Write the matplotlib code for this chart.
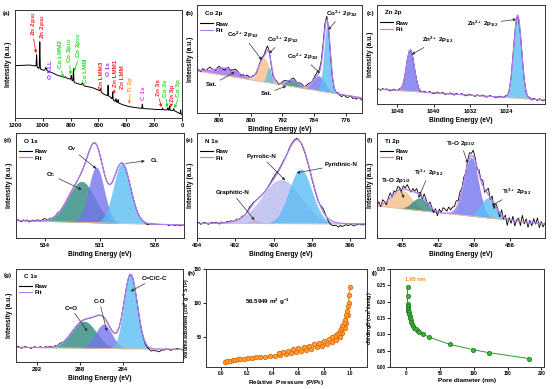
import matplotlib
matplotlib.use('Agg')
import numpy as np
import matplotlib.pyplot as plt
from matplotlib.lines import Line2D

plt.rcParams['font.family'] = ['Liberation Sans', 'DejaVu Sans']
plt.rcParams['font.weight'] = 'bold'
plt.rcParams['axes.labelweight'] = 'bold'
plt.rcParams['mathtext.fontset'] = 'custom'
plt.rcParams['mathtext.rm'] = 'Liberation Sans:bold'
plt.rcParams['mathtext.it'] = 'Liberation Sans:bold'
plt.rcParams['mathtext.bf'] = 'Liberation Sans:bold'
plt.rcParams['mathtext.default'] = 'rm'

# ---------------- data ----------------
# (a) survey: background polyline + narrow peaks (BE, height, fwhm)
survey_bg_be = [1200, 1100, 1050, 1030, 1000, 950, 900, 850, 800, 770, 700, 650,
                600, 560, 520, 480, 450, 420, 380, 300, 200, 100, 50, 0]
survey_bg_int = [0.485, 0.491, 0.481, 0.460, 0.444, 0.429, 0.398, 0.377, 0.358, 0.327,
                 0.296, 0.284, 0.259, 0.219, 0.198, 0.151, 0.136, 0.120, 0.105, 0.090,
                 0.080, 0.074, 0.065, 0.028]
survey_pk_be = [1045, 1022, 978, 838, 796, 780, 716, 586, 531, 498, 475, 459, 285, 140, 102, 89, 60, 10]
survey_pk_h = [0.11, 0.25, 0.03, 0.01, 0.04, 0.12, 0.02, 0.03, 0.10, 0.07, 0.03, 0.03, 0.04,
               0.015, 0.02, 0.04, 0.02, 0.04]
survey_pk_w = [4, 4, 10, 10, 5, 4, 10, 6, 4, 4, 6, 4, 4, 5, 5, 4, 5, 4]

# (b) Co 2p : sat, Co2+ 2p1/2, Co3+ 2p1/2, sat, Co2+ 2p3/2, Co3+ 2p3/2
co_c = [806.0, 796.6, 795.4, 789.5, 782.9, 780.8]
co_h = [0.07, 0.22, 0.14, 0.06, 0.14, 0.62]
co_w = [7.0, 3.2, 1.4, 3.5, 3.5, 1.9]
co_base = [0.39, 0.14]
co_noise = [0, 1, -1, 2, 1, 0, 2, 3, 1, 0, -1, 1, 2, 0, -1, -2, 0, 1, -1, 0, 1, 2, 1, 0, -1, 1, 0, 2, 1,
            0, 1, 0, -1, 0, 1, 2, 1, 3, 4, 1, -2,
            -2, 0, 1, -1, 0, 1, 2, 1, 0, -1, 1, 2, 1, 0, 1,
            2, 1, 0, 1, 2, 1, 0, 1, 2, 3, 2, 3, 4, 5, 3, 1, -1,
            -2, -1, 0, 1, -1, -2, 0, -1, -2, -1, 0, -2, -1, -2, 0, -1, -2]

# (c) Zn 2p : 2p1/2, 2p3/2
zn_c = [1045.1, 1021.6]
zn_h = [0.42, 0.84]
zn_w = [2.0, 2.0]
zn_base = [0.15, 0.04]
zn_noise = [1, 0, -1, 1, 0, 1, 0, -1, 0, 1, 0, 0, 1, 0, -1, 0, 1, 0, 0, 0,
            0, 1, 0, -1, 0, 1, 0, 0, 1, 0, -1, 0, 1, 0, 0, 1, -1, 0, 0, 1,
            0, -1, 1, 0, 0, 1, 0, -1, 0, 1, 0, 0, -1, 1, 0, 0, 1, 0, -1, 0,
            1, 0, 0, -1, 0, 1, 0, 0, 1, 0, -1, 0, 2, 1, 0, -1, 0, 1, 0, -1,
            0, 1, -1, 1, 0, -1, 1, 0, -1, 0]

# (d) O 1s : O_C, O_V, O_L
o_c = [532.0, 531.2, 529.8]
o_h = [0.39, 0.53, 0.57]
o_w = [1.7, 1.0, 1.1]
o_base = [0.165, 0.124]
o_noise = [0, 1, 0, -1, 1, 0, 1, -1, 0, 1, 0, 1, 1, 0, 1, 2, 1, 0, 1, 0,
           0, 0, 1, 0, 0, 0, 0, 0, 0, 0, 0, 0, 0, 0, 0, 0, 0, 0, 0, 0,
           0, 0, 0, 0, 0, 0, 0, 0, 0, 0, 0, 0, 0, 0, 0, 0, 0, 0, 0, 0,
           0, 0, 0, 0, 0, 0, 0, 0, 0, -1, -1, 0, 0, 0, 0, 0, 0, 0, 0, 0,
           0, -1, 0, 0, -1, 0, 0, -1, 0, 0]

# (e) N 1s : graphitic, pyrrolic, pyridinic
n_c = [401.0, 399.6, 398.6]
n_h = [0.04, 0.42, 0.52]
n_w = [0.6, 2.4, 1.4]
n_base = [0.14, 0.135]
n_noise = [0, 1, -1, 0, 1, 0, -1, 0, 1, 0, 1, 0, -1, 1, 0, 0, 1, 0, 1, 0,
           0, 1, 0, 0, 1, 0, 0, 1, 2, 1, 1, 0, 0, 0, 0, 0, 0, 0, 1, 1,
           2, 2, 2, 1, 1, 1, 1, 0, 0, 1, 1, 1, 1, 1, 0, 0, -1, -1, -1, -1,
           -1, -1, -1, -1, -1, 0, 2, 3, 1, -1, -3, -4, -4, -3, -3, -4, -2, -3, -2, -1,
           -2, -1, -1, -2, -1, -1, 0, -1, -1, 0]

# (f) Ti 2p : Ti-O 2p1/2, Ti3+ 2p1/2, Ti-O 2p3/2, Ti3+ 2p3/2
ti_c = [465.0, 463.5, 459.2, 457.8]
ti_h = [0.18, 0.12, 0.56, 0.19]
ti_w = [1.9, 1.5, 1.4, 1.5]
ti_base = [0.305, 0.133]
ti_noise = [0, 3, -2, 4, 1, -3, 2, 5, -1, 3, 0, 4, 2, -2, 3, 1, 5, 2, -1, 3,
            1, 4, 0, 3, -2, 5, 2, -1, 4, 1, -3, 2, -4, 3, 0, 5, 4, 2, 6, 3,
            5, 4, 7, 3, 6, 2, 4, -1, 3, 5, 2, 6, 3, -2, 4, 1, 5, -3, 2, 6,
            -2, 4, -5, 3, 1, -4, 5, -2, 3, -6, 2, -3, 4, -5, 1, 3, -4, 6, -2, 3,
            -5, 2, -3, 4, -1, 5, -4, 2, -3, 1]

# (g) C 1s : C=O, C-O, C=C/C-C
c_c = [287.6, 285.8, 283.3]
c_h = [0.29, 0.26, 0.80]
c_w = [2.6, 1.8, 1.45]
c_base = [0.158, 0.136]
c_noise = [0, 1, 0, -1, 0, 1, 0, 0, -1, 0, 1, 0, 0, 1, 0, 0, 1, 0, 1, 0,
           0, 1, 0, 1, 1, 0, 0, 0, 0, 0, 0, 0, 0, 0, 0, 0, 0, 0, 0, 0,
           0, 0, 0, 0, 0, 0, 0, 0, 0, 0, 0, 0, 0, 0, 0, 0, 0, 0, 0, 0,
           0, 0, 0, 0, 0, 0, -1, -1, -1, -2, -2, -2, -3, -2, -2, -2, -3, -2, -1, -1,
           0, 0, -1, -1, 0, 0, 1, 0, 0, -1]

# (h) N2 isotherm
p_ads = [0.03, 0.05, 0.07, 0.09, 0.11, 0.13, 0.15, 0.18, 0.21, 0.24, 0.27, 0.30, 0.34, 0.38,
         0.42, 0.46, 0.50, 0.54, 0.58, 0.62, 0.66, 0.70, 0.74, 0.78, 0.82, 0.86, 0.89, 0.92,
         0.94, 0.96, 0.97, 0.98, 0.99, 0.995]
v_ads = [11.9, 13.5, 14.5, 15.3, 15.9, 16.4, 16.9, 17.5, 18.1, 18.6, 19.1, 19.6, 20.3, 21.0,
         22.0, 23.2, 24.6, 26.0, 27.5, 29.0, 30.5, 32.2, 34.0, 36.0, 38.5, 41.5, 45.0, 50.0,
         55.0, 63.0, 70.0, 82.0, 100.0, 124.0]
p_des = [0.99, 0.98, 0.975, 0.97, 0.96, 0.95, 0.94, 0.93, 0.92, 0.91, 0.90, 0.88, 0.86, 0.84,
         0.80, 0.76, 0.72, 0.68, 0.64, 0.60, 0.56, 0.52, 0.48, 0.45]
v_des = [112, 95, 88, 82, 75, 70, 65, 61, 58, 56, 54, 51, 49, 47, 43.5, 41, 38.5, 36.5, 34.5,
         32.8, 31, 29, 27, 25]

# (i) pore size distribution
d_pore = [1.95, 1.95, 1.96, 2.0, 2.3, 2.7, 3.2, 3.8, 4.4, 5.0, 5.7, 6.5, 7.5, 8.7, 10.2, 12.0,
          14.5, 17.5, 19.5, 25.0, 33.0, 65.0, 99.5, 122.0, 182.0]
dv_pore = [0.245, 0.218, 0.192, 0.187, 0.182, 0.177, 0.172, 0.167, 0.161, 0.155, 0.149, 0.143,
           0.137, 0.131, 0.126, 0.120, 0.115, 0.110, 0.107, 0.101, 0.092, 0.069, 0.053, 0.044,
           0.026]

# ---------------- styles ----------------
LB, SB, PE, TE, VI = '#5BBEF5', '#7474EE', '#F5BE8A', '#2E8A80', '#9B6BF0'
PB, LV, FIT = '#C89090', '#B9B9F2', '#B57AF5'
FS_T, FS_L, FS_A = 4.3, 4.8, 4.5

W, H = 554, 389
fig = plt.figure(figsize=(W / 100, H / 100), dpi=100)


def add_ax(l, t, r, b):
    return fig.add_axes([l / W, 1 - b / H, (r - l) / W, (b - t) / H])


def gauss(x, c, h, w):
    return h * np.exp(-4 * np.log(2) * ((x - c) / w) ** 2)


def style(ax, letter, lx, ly):
    for s in ax.spines.values():
        s.set_linewidth(0.7)
        s.set_color('#333333')
    ax.tick_params(labelsize=FS_T, length=2, width=0.6, pad=1.5, direction='out')
    fig.text(lx / W, 1 - ly / H, letter, fontsize=4.5, fontweight='bold', va='center')


def xps(ax, xlim, ticks, base, cen, hei, wid, cols, noise, title, anns, ylab=True):
    x = np.linspace(xlim[0], xlim[1], 800)
    bl = base[0] + (base[1] - base[0]) * (x - xlim[0]) / (xlim[1] - xlim[0])
    tot = bl.copy()
    for c, h, w, col in zip(cen, hei, wid, cols):
        g = gauss(x, c, h, w)
        ax.fill_between(x, bl, bl + g, color=col, alpha=0.8, lw=0)
        tot += g
    ax.plot(x, bl, color=PE, lw=0.6)
    xr = np.linspace(xlim[0], xlim[1], len(noise))
    raw = base[0] + (base[1] - base[0]) * (xr - xlim[0]) / (xlim[1] - xlim[0])
    for c, h, w in zip(cen, hei, wid):
        raw = raw + gauss(xr, c, h, w)
    raw = raw + np.array(noise) * 0.01
    ax.plot(xr, raw, color='black', lw=0.6)
    ax.plot(x, tot, color=FIT, lw=0.9)
    ax.set_xlim(xlim)
    ax.set_ylim(0, 1)
    ax.set_xticks(ticks)
    ax.set_yticks([])
    ax.set_xlabel('Binding Energy (eV)', fontsize=FS_L, labelpad=2)
    if ylab:
        ax.set_ylabel('Intensity (a.u.)', fontsize=FS_L, labelpad=2)
    ax.text(0.05, 0.92, title, transform=ax.transAxes, fontsize=FS_A, va='center')
    hs = [Line2D([], [], color='black', lw=0.8), Line2D([], [], color=FIT, lw=0.8)]
    ax.legend(hs, ['Raw', 'Fit'], loc='upper left', bbox_to_anchor=(-0.01, 0.89), frameon=False,
              fontsize=FS_A, handlelength=2.2, labelspacing=0.15, borderpad=0.2, handletextpad=0.4)
    for txt, tip, pos, rev in anns:
        if rev:
            ax.annotate('', xy=pos, xycoords='axes fraction', xytext=tip, textcoords='data',
                        arrowprops=dict(arrowstyle='-|>', color='#333333', lw=0.5,
                                        mutation_scale=4, shrinkA=0, shrinkB=4))
            ax.text(pos[0], pos[1], txt, transform=ax.transAxes, fontsize=FS_A,
                    ha='left', va='center')
        else:
            ax.annotate(txt, xy=tip, xycoords='data', xytext=pos, textcoords='axes fraction',
                        fontsize=FS_A, ha='center', va='center',
                        arrowprops=dict(arrowstyle='-|>', color='#333333', lw=0.5,
                                        mutation_scale=4, shrinkA=0, shrinkB=0))


# ---------------- (a) survey ----------------
ax = add_ax(15, 10, 182, 118)
xs = np.linspace(1200, 0, 2400)
ys = np.interp(xs, survey_bg_be[::-1], survey_bg_int[::-1])
for c, h, w in zip(survey_pk_be, survey_pk_h, survey_pk_w):
    ys = ys + gauss(xs, c, h, w)
ax.plot(xs, ys, color='black', lw=0.7)
ax.set_xlim(1200, 0)
ax.set_ylim(0, 1)
ax.set_xticks([1200, 1000, 800, 600, 400, 200, 0])
ax.set_yticks([])
ax.set_ylabel('Intensity (a.u.)', fontsize=FS_L, labelpad=2)
RED, GRN, PUR, ORG, MAG = '#FF2222', '#22DD22', '#9933FF', '#FF9922', '#FF33FF'
survey_anns = [
    ('Zn 2p$_{1/2}$', RED, 1070, 0.99, (1048, 0.60)),
    ('Zn 2p$_{3/2}$', RED, 1000, 0.96, None),
    ('O KLL', PUR, 945, 0.54, None),
    ('Co LMM2', GRN, 872, 0.72, (852, 0.37)),
    ('Co 2p$_{1/2}$', GRN, 808, 0.75, (800, 0.40)),
    ('Co 2p$_{3/2}$', GRN, 744, 0.79, (776, 0.43)),
    ('Co LMM', GRN, 690, 0.55, None),
    ('Zn LMM3', RED, 582, 0.52, None),
    ('O 1s', PUR, 530, 0.52, None),
    ('Zn LMM1', RED, 480, 0.54, (492, 0.22)),
    ('Zn LMM', RED, 428, 0.49, None),
    ('Ti 2p', ORG, 372, 0.38, (380, 0.13)),
    ('C 1s', MAG, 278, 0.29, None),
    ('Zn 3s', RED, 168, 0.36, (148, 0.10)),
    ('Co 3s', GRN, 116, 0.36, (104, 0.10)),
    ('Zn 3p', RED, 70, 0.31, (84, 0.10)),
    ('Co 3p', GRN, 22, 0.36, (55, 0.09)),
]
for txt, col, xt, yt, tip in survey_anns:
    if tip is None:
        ax.text(xt, yt, txt, color=col, fontsize=4.6, rotation=90, ha='center', va='top')
    else:
        ax.annotate(txt, xy=tip, xytext=(xt, yt), color=col, fontsize=4.6, rotation=90,
                    ha='center', va='top',
                    arrowprops=dict(arrowstyle='-|>', color=col, lw=0.6, mutation_scale=4,
                                    shrinkA=0, shrinkB=0, relpos=(0.5, 0)))
style(ax, '(a)', 3, 13)

# ---------------- (b) Co 2p ----------------
ax = add_ax(197, 5, 362, 113)
xps(ax, (813.5, 772), [808, 800, 792, 784, 776], co_base, co_c, co_h, co_w,
    [VI, PE, LB, TE, SB, LB], co_noise, 'Co 2p',
    [('Co$^{2+}$ 2p$_{1/2}$', (797.2, 0.49), (0.28, 0.72), False),
     ('Co$^{3+}$ 2p$_{1/2}$', (795.4, 0.55), (0.52, 0.68), False),
     ('Co$^{3+}$ 2p$_{3/2}$', (780.5, 0.77), (0.88, 0.92), False),
     ('Co$^{2+}$ 2p$_{3/2}$', (782.6, 0.37), (0.64, 0.52), False),
     ('Sat.', (804, 0.38), (0.09, 0.26), False),
     ('Sat.', (791, 0.25), (0.42, 0.18), False)])
style(ax, '(b)', 186, 13)

# ---------------- (c) Zn 2p ----------------
ax = add_ax(377, 5, 545, 104)
xps(ax, (1052.4, 1015.6), [1048, 1040, 1032, 1024], zn_base, zn_c, zn_h, zn_w,
    [SB, LB], zn_noise, 'Zn 2p',
    [('Zn$^{2+}$ 2p$_{3/2}$', (1021.9, 0.855), (0.63, 0.81), False),
     ('Zn$^{2+}$ 2p$_{1/2}$', (1044.8, 0.50), (0.36, 0.65), False)])
style(ax, '(c)', 367, 13)

# ---------------- (d) O 1s ----------------
ax = add_ax(16, 133, 184, 238)
xps(ax, (535.58, 526.42), [534, 531, 528], o_base, o_c, o_h, o_w,
    [TE, SB, LB], o_noise, 'O 1s',
    [('O$_V$', (531.2, 0.66), (0.33, 0.85), False),
     ('O$_C$', (532.0, 0.46), (0.21, 0.60), False),
     ('O$_L$', (529.6, 0.71), (0.80, 0.74), True)])
style(ax, '(d)', 4, 141)

# ---------------- (e) N 1s ----------------
ax = add_ax(197, 133, 365, 238)
xps(ax, (404, 395.23), [404, 402, 400, 398, 396], n_base, n_c, n_h, n_w,
    [PB, LV, LB], n_noise, 'N 1s',
    [('Pyrrolic-N', (399.4, 0.55), (0.385, 0.775), False),
     ('Pyridinic-N', (398.8, 0.62), (0.86, 0.70), False),
     ('Graphitic-N', (401.0, 0.17), (0.21, 0.43), False)])
style(ax, '(e)', 186, 141)

# ---------------- (f) Ti 2p ----------------
ax = add_ax(377, 133, 545, 238)
xps(ax, (467.06, 453.06), [465, 462, 459, 456], ti_base, ti_c, ti_h, ti_w,
    [PE, TE, SB, LB], ti_noise, 'Ti 2p',
    [('Ti-O 2p$_{3/2}$', (459.5, 0.71), (0.50, 0.90), False),
     ('Ti$^{3+}$ 2p$_{1/2}$', (463.6, 0.38), (0.31, 0.62), False),
     ('Ti-O 2p$_{1/2}$', (464.8, 0.38), (0.11, 0.55), False),
     ('Ti$^{3+}$ 2p$_{3/2}$', (457.5, 0.31), (0.83, 0.44), False)])
style(ax, '(f)', 367, 141)

# ---------------- (g) C 1s ----------------
ax = add_ax(16, 269, 183, 362)
xps(ax, (293.9, 278.46), [292, 288, 284], c_base, c_c, c_h, c_w,
    [TE, SB, LB], c_noise, 'C 1s',
    [('C=O', (287.3, 0.33), (0.33, 0.58), False),
     ('C-O', (285.5, 0.33), (0.50, 0.65), False),
     ('C=C/C-C', (283.3, 0.76), (0.83, 0.90), False)])
style(ax, '(g)', 4, 275)

# ---------------- (h) isotherm ----------------
ax = add_ax(206, 269, 367, 367)
ax.plot(p_ads, v_ads, 'o-', color='#FF8C1A', mfc='#FFA040', mec='#E06A00', ms=3.2, lw=0.7, mew=0.6)
ax.plot(p_des, v_des, 'o-', color='#FF8C1A', mfc='#FFA040', mec='#E06A00', ms=3.2, lw=0.7, mew=0.6)
ax.set_xlim(-0.115, 1.13)
ax.set_ylim(5, 150)
ax.set_xticks([0.0, 0.2, 0.4, 0.6, 0.8, 1.0])
ax.set_yticks([50, 100, 150])
ax.text(0.36, 101, '56.5949 m$^2$ g$^{-1}$', fontsize=FS_A, ha='center', va='center')
style(ax, '(h)', 188, 273)
ax.tick_params(labelsize=3.3, pad=1)
ax.set_xlabel('Relative  Pressure (P/P$_0$)', fontsize=4.6, labelpad=1)
ax.set_ylabel('Volume adsorbed (cm$^3$ g$^{-1}$ STP)', fontsize=3.8, labelpad=1.5)

# ---------------- (i) pore size ----------------
ax = add_ax(390, 269, 544, 367)
ax.plot(d_pore, dv_pore, 'o-', color='#2BA02B', mfc='#3CB83C', mec='#1E7E1E', ms=3.0, lw=0.7, mew=0.6)
ax.set_xlim(-24, 204)
ax.set_ylim(0, 0.30)
ax.set_xticks([0, 50, 100, 150, 200])
ax.set_yticks(np.arange(0, 0.301, 0.05))
ax.yaxis.set_major_formatter(matplotlib.ticker.FormatStrFormatter('%.2f'))
ax.text(13, 0.268, '1.95 nm', color='#FF8C1A', fontsize=4, ha='center', va='center')
style(ax, '(i)', 372, 273)
ax.tick_params(labelsize=3.3, pad=1)
ax.set_xlabel('Pore diameter (nm)', fontsize=4.6, labelpad=1)
ax.set_ylabel('dV/dlogD (cm$^3$/nm/g)', fontsize=3.8, labelpad=1.5)

fig.savefig('out.png', dpi=100)
